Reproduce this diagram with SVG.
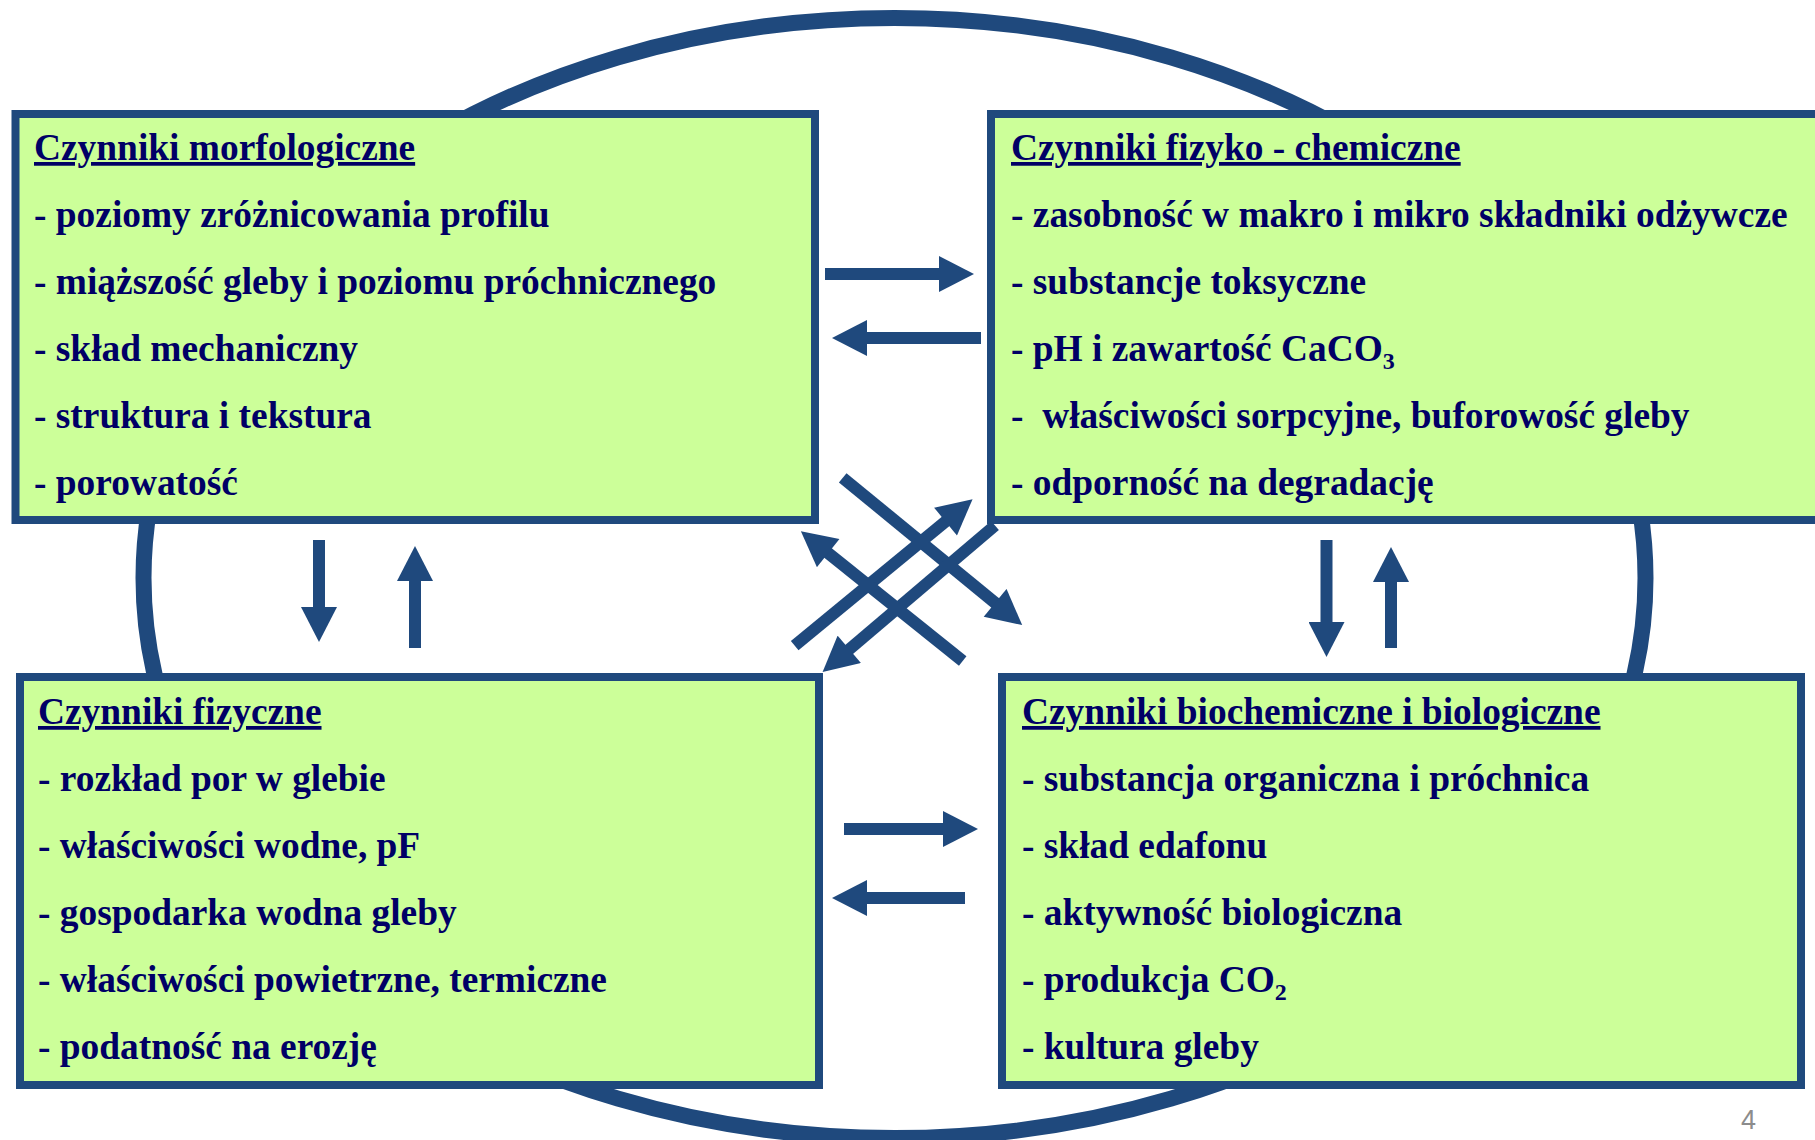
<svg xmlns="http://www.w3.org/2000/svg" width="1815" height="1140" viewBox="0 0 1815 1140">
<defs>
<style>
.box{fill:#CCFF99;stroke:#1F497D;stroke-width:8}
.t{font-family:"Liberation Serif","Times New Roman",serif;font-weight:bold;font-size:37.4px;fill:#000066}
.h{text-decoration:underline}
.sub{font-size:24px}
.ring{fill:none;stroke:#1F497D;stroke-width:16}
.arr{stroke:#1F497D;stroke-width:12;fill:none;marker-end:url(#ah)}
.pg{font-family:"Liberation Sans",Arial,sans-serif;font-size:27px;fill:#8c8c8c}
</style>
<marker id="ah" markerUnits="userSpaceOnUse" markerWidth="36" markerHeight="36" viewBox="0 0 35 36" refX="1" refY="18" orient="auto">
<path d="M0,0 L35,18 L0,36 Z" fill="#1F497D"/>
</marker>
</defs>
<rect width="1815" height="1140" fill="#ffffff"/>
<ellipse class="ring" cx="894.5" cy="578" rx="751" ry="560"/>

<g id="morfologiczne">
<rect class="box" x="15.5" y="114" width="799.5" height="406"/>
<text class="t h" x="34" y="160">Czynniki morfologiczne</text>
<text class="t" x="34" y="227">- poziomy zróżnicowania profilu</text>
<text class="t" x="34" y="294">- miąższość gleby i poziomu próchnicznego</text>
<text class="t" x="34" y="361">- skład mechaniczny</text>
<text class="t" x="34" y="428">- struktura i tekstura</text>
<text class="t" x="34" y="495">- porowatość</text>
</g>

<g id="fizyko-chemiczne">
<rect class="box" x="991" y="114" width="840" height="406"/>
<text class="t h" x="1011" y="160">Czynniki fizyko - chemiczne</text>
<text class="t" x="1011" y="227">- zasobność w makro i mikro składniki odżywcze</text>
<text class="t" x="1011" y="294">- substancje toksyczne</text>
<text class="t" x="1011" y="361">- pH i zawartość CaCO<tspan class="sub" dy="8">3</tspan></text>
<text class="t" x="1011" y="428" xml:space="preserve">-  właściwości sorpcyjne, buforowość gleby</text>
<text class="t" x="1011" y="495">- odporność na degradację</text>
</g>

<g id="fizyczne">
<rect class="box" x="20" y="677" width="799" height="408"/>
<text class="t h" x="38" y="724">Czynniki fizyczne</text>
<text class="t" x="38" y="791">- rozkład por w glebie</text>
<text class="t" x="38" y="858">- właściwości wodne, pF</text>
<text class="t" x="38" y="925">- gospodarka wodna gleby</text>
<text class="t" x="38" y="992">- właściwości powietrzne, termiczne</text>
<text class="t" x="38" y="1059">- podatność na erozję</text>
</g>

<g id="biologiczne">
<rect class="box" x="1002" y="677" width="799" height="408"/>
<text class="t h" x="1022" y="724">Czynniki biochemiczne i biologiczne</text>
<text class="t" x="1022" y="791">- substancja organiczna i próchnica</text>
<text class="t" x="1022" y="858">- skład edafonu</text>
<text class="t" x="1022" y="925">- aktywność biologiczna</text>
<text class="t" x="1022" y="992">- produkcja CO<tspan class="sub" dy="8">2</tspan></text>
<text class="t" x="1022" y="1059">- kultura gleby</text>
</g>

<g id="connectors">
<line class="arr" x1="825" y1="274" x2="940" y2="274"/>
<line class="arr" x1="981" y1="338" x2="866" y2="338"/>
<line class="arr" x1="844" y1="829" x2="944" y2="829"/>
<line class="arr" x1="965" y1="898" x2="866" y2="898"/>
<line class="arr" x1="319" y1="540" x2="319" y2="608"/>
<line class="arr" x1="415" y1="648" x2="415" y2="580"/>
<line class="arr" x1="1326.5" y1="540" x2="1326.5" y2="623"/>
<line class="arr" x1="1391" y1="648" x2="1391" y2="581"/>
<line class="arr" x1="842.7" y1="477.8" x2="995.9" y2="603.5"/>
<line class="arr" x1="794.7" y1="645.7" x2="946.3" y2="520.9"/>
<line class="arr" x1="995" y1="525.5" x2="848.5" y2="650"/>
<line class="arr" x1="962.7" y1="661" x2="827.4" y2="552.5"/>
</g>

<text class="pg" x="1741" y="1129">4</text>
</svg>
